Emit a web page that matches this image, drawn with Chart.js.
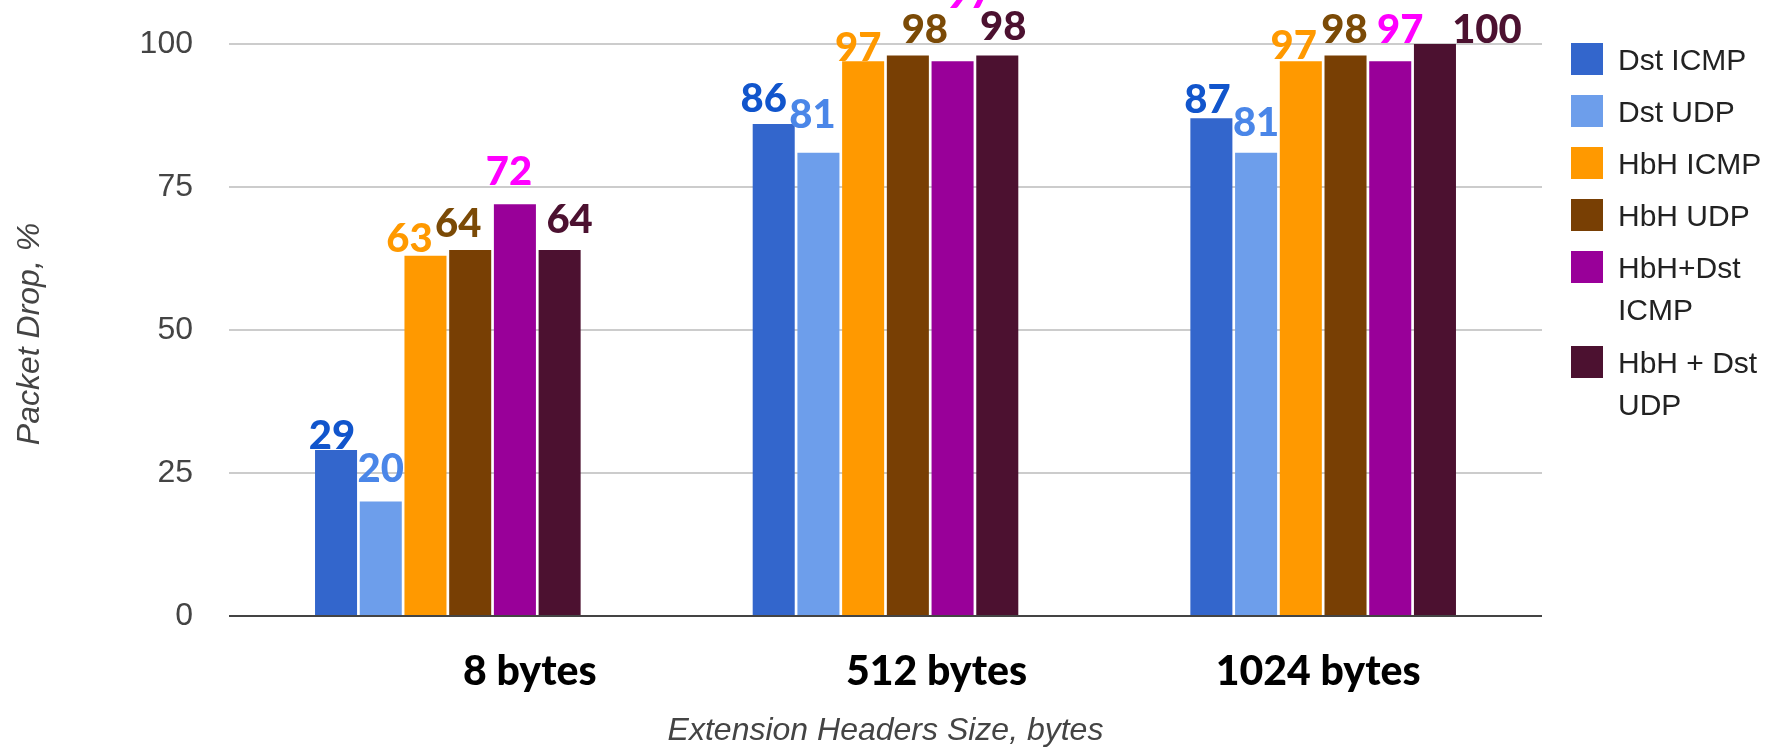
<!DOCTYPE html>
<html>
<head>
<meta charset="utf-8">
<title>Packet Drop by Extension Headers Size</title>
<script src="https://cdn.jsdelivr.net/npm/chart.js@4.4.1/dist/chart.umd.min.js"></script>
<style>
  html, body { margin: 0; padding: 0; background: #ffffff; }
  #wrap { width: 1771px; height: 748px; }
</style>
</head>
<body>
<div id="wrap"><canvas id="chart" width="1771" height="748"></canvas></div>
<script>
// ---- data ----
const categories = ['8 bytes', '512 bytes', '1024 bytes'];
const seriesNames = ['Dst ICMP', 'Dst UDP', 'HbH ICMP', 'HbH UDP', 'HbH+Dst ICMP', 'HbH + Dst UDP'];
const dstIcmp    = [29, 86, 87];
const dstUdp     = [20, 81, 81];
const hbhIcmp    = [63, 97, 97];
const hbhUdp     = [64, 98, 98];
const hbhDstIcmp = [72, 97, 97];
const hbhDstUdp  = [64, 98, 100];
const yTicks = [0, 25, 50, 75, 100];
const xTitle = 'Extension Headers Size, bytes';
const yTitle = 'Packet Drop, %';

// ---- styling ----
const barColors   = ['#3366CC', '#6D9EEB', '#FF9900', '#783F04', '#990099', '#4C1130'];
const labelColors = ['#1155CC', '#4A86E8', '#FF9900', '#7B4A06', '#FF00FF', '#4C1130'];
// hand-placed nudges for the value labels: [dx, dy] from each bar's top centre
const labelNudge = [
  [[-4, -1],  [-10, -12], [-4, -5]],
  [[0, -20],  [-6, -25],  [0, -17]],
  [[-16, -4], [-5, 0],    [-7, -2]],
  [[-12, -13],[17, -12],  [-1, -12]],
  [[-6, -19], [17, -53],  [10, -18]],
  [[10, -17], [6, -15],   [52, -1]]
];
// category captions sit a little off the group centres
const categoryNudge = [82, 51, -5];

const seriesValues = [dstIcmp, dstUdp, hbhIcmp, hbhUdp, hbhDstIcmp, hbhDstUdp];

const AXIS_FONT = '"Liberation Sans", Arial, sans-serif';
const MARK_FONT = 'Lato, "DejaVu Sans", sans-serif';

const overlay = {
  id: 'overlay',
  afterDatasetsDraw(chart) {
    const ctx = chart.ctx;
    ctx.save();
    ctx.font = '900 40px ' + MARK_FONT;
    ctx.textAlign = 'center';
    ctx.textBaseline = 'alphabetic';
    chart.data.datasets.forEach((ds, si) => {
      const meta = chart.getDatasetMeta(si);
      meta.data.forEach((bar, ci) => {
        const n = labelNudge[si][ci];
        ctx.fillStyle = labelColors[si];
        ctx.fillText(String(ds.data[ci]), bar.x + n[0], bar.y + n[1]);
      });
    });
    ctx.restore();
  },
  afterDraw(chart) {
    const ctx = chart.ctx;
    const xs = chart.scales.x;
    const area = chart.chartArea;
    ctx.save();

    // category captions
    ctx.font = '900 41px ' + MARK_FONT;
    ctx.fillStyle = '#000000';
    ctx.textAlign = 'center';
    ctx.textBaseline = 'alphabetic';
    categories.forEach((c, i) => {
      ctx.fillText(c, xs.getPixelForValue(i) + categoryNudge[i], 685);
    });

    // axis titles
    ctx.font = 'italic 32px ' + AXIS_FONT;
    ctx.fillStyle = '#444444';
    ctx.fillText(xTitle, (area.left + area.right) / 2, 740);
    ctx.save();
    ctx.translate(30, 334);
    ctx.rotate(-Math.PI / 2);
    ctx.textBaseline = 'middle';
    ctx.fillText(yTitle, 0, 0);
    ctx.restore();

    // legend on the right, wrapping long names
    const boxX = 1571, textX = 1618, maxW = 1771 - textX - 2;
    ctx.font = '30px ' + AXIS_FONT;
    ctx.textAlign = 'left';
    let top = 43;
    chart.data.datasets.forEach((ds, si) => {
      const words = ds.label.split(' ');
      const lines = [];
      let line = '';
      words.forEach(w => {
        const trial = line ? line + ' ' + w : w;
        if (line && ctx.measureText(trial).width > maxW) { lines.push(line); line = w; }
        else line = trial;
      });
      lines.push(line);
      ctx.fillStyle = ds.backgroundColor;
      ctx.fillRect(boxX, top, 32, 32);
      ctx.fillStyle = '#222222';
      lines.forEach((l, k) => ctx.fillText(l, textX, top + 27 + k * 42));
      top += 52 + (lines.length - 1) * 43;
    });
    ctx.restore();
  }
};

new Chart(document.getElementById('chart'), {
  type: 'bar',
  data: {
    labels: categories,
    datasets: seriesNames.map((name, i) => ({
      label: name,
      data: seriesValues[i],
      backgroundColor: barColors[i],
      borderWidth: 0,
      categoryPercentage: 0.613,
      barPercentage: 0.94
    }))
  },
  options: {
    responsive: false,
    devicePixelRatio: 1,
    animation: false,
    layout: { padding: { top: 44, right: 229, left: 0, bottom: 0 } },
    plugins: { legend: { display: false }, tooltip: { enabled: false } },
    scales: {
      x: {
        grid: { display: false },
        border: { display: false },
        ticks: { display: false },
        afterFit(scale) { scale.height = 132; }
      },
      y: {
        min: yTicks[0],
        max: yTicks[yTicks.length - 1],
        afterBuildTicks(scale) { scale.ticks = yTicks.map(v => ({ value: v })); },
        grid: {
          drawTicks: false,
          color: c => (c.tick && c.tick.value === 0 ? '#444444' : '#cccccc'),
          lineWidth: 2
        },
        border: { display: false },
        ticks: {
          padding: 36,
          color: '#444444',
          font: { family: AXIS_FONT, size: 32 }
        },
        afterFit(scale) {
          scale.width = 229;
          scale.paddingTop = 0;
          scale.paddingBottom = 0;
        }
      }
    }
  },
  plugins: [overlay]
});
</script>
</body>
</html>
